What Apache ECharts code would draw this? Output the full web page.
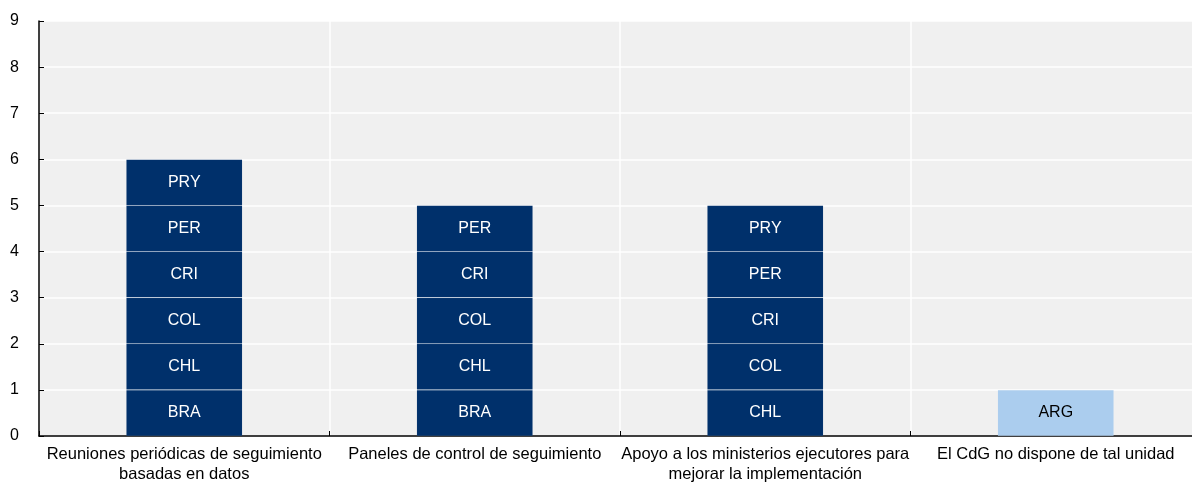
<!DOCTYPE html>
<html>
<head>
<meta charset="utf-8">
<script src="https://cdn.jsdelivr.net/npm/echarts@6/dist/echarts.min.js"></script>
<style>
  html, body { margin: 0; padding: 0; background: #fff; overflow: hidden; }
  #chart { width: 1201px; height: 484px; }
</style>
</head>
<body>
<div id="chart"></div>
<script>
const categories = [
  "Reuniones periódicas de seguimiento\nbasadas en datos",
  "Paneles de control de seguimiento",
  "Apoyo a los ministerios ejecutores para\nmejorar la implementación",
  "El CdG no dispone de tal unidad"
];
// countries stacked from the bottom up, one unit each
const countries = [
  ["BRA", "CHL", "COL", "CRI", "PER", "PRY"],
  ["BRA", "CHL", "COL", "CRI", "PER"],
  ["CHL", "COL", "CRI", "PER", "PRY"],
  ["ARG"]
];
const yTicks = [0, 1, 2, 3, 4, 5, 6, 7, 8, 9];

const NAVY = "#00306B";
const LIGHT = "#ABCDEE";
const FONT = "Liberation Sans Narrow, Arial Narrow, Liberation Sans, Arial, sans-serif";

const chart = echarts.init(document.getElementById("chart"), null, { renderer: "canvas" });

const levels = Math.max(...countries.map(c => c.length));
const series = [];
for (let lvl = 0; lvl < levels; lvl++) {
  series.push({
    type: "bar",
    stack: "total",
    barWidth: "40%",
    data: categories.map((_, ci) => {
      const code = countries[ci][lvl];
      if (!code) return "-";
      const isNone = ci === categories.length - 1;
      return {
        value: 1,
        name: code,
        itemStyle: { color: isNone ? LIGHT : NAVY },
        label: { color: isNone ? "#000" : "#fff" }
      };
    }),
    itemStyle: { borderColor: "rgba(255,255,255,0.08)", borderWidth: 0.6 },
    label: {
      show: true,
      position: "inside",
      fontFamily: FONT,
      fontSize: 16,
      formatter: p => countries[p.dataIndex][lvl]
    },
    emphasis: { disabled: true }
  });
}

chart.setOption({
  animation: false,
  backgroundColor: "#fff",
  grid: { left: 39, right: 0, top: 21, bottom: 48, containLabel: false,
          show: true, backgroundColor: "#F0F0F0", borderWidth: 0 },
  xAxis: {
    type: "category",
    data: categories,
    axisLine: { lineStyle: { color: "#000", width: 1.5 } },
    axisTick: { show: true, inside: true, length: 5, lineStyle: { color: "#000" } },
    splitLine: { show: true, lineStyle: { color: "#fff", width: 1.5 } },
    axisLabel: { color: "#000", fontFamily: FONT, fontSize: 16.5, lineHeight: 20, margin: 8, interval: 0 }
  },
  yAxis: {
    type: "value",
    min: yTicks[0],
    max: yTicks[yTicks.length - 1],
    interval: 1,
    axisLine: { show: true, lineStyle: { color: "#000", width: 1.5 } },
    axisTick: { show: true, inside: true, length: 5, lineStyle: { color: "#000" } },
    splitLine: { show: true, lineStyle: { color: "#fff", width: 1.5 } },
    axisLabel: { color: "#000", fontFamily: FONT, fontSize: 16, margin: 20 }
  },
  series: series
});
</script>
</body>
</html>
